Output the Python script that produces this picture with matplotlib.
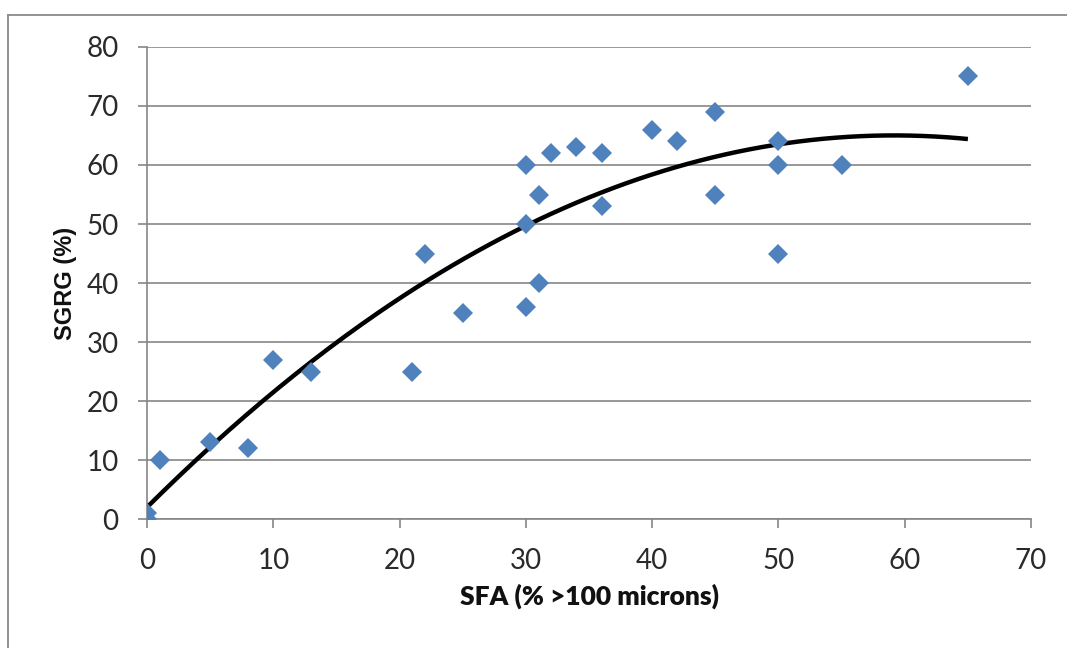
import numpy as np
import matplotlib
matplotlib.use("Agg")
import matplotlib.pyplot as plt
from matplotlib.lines import Line2D

# SFA (% >100 microns) vs SGRG (%)
sfa = [0, 0, 1, 5, 8, 10, 13, 21, 22, 25, 30, 30, 30, 31, 31, 32, 34, 36, 36,
       40, 42, 45, 45, 50, 50, 50, 55, 65]
sgrg = [0, 1, 10, 13, 12, 27, 25, 25, 45, 35, 36, 50, 60, 40, 55, 62, 63, 62, 53,
        66, 64, 69, 55, 64, 60, 45, 60, 75]

# polynomial (order 2) trendline, coefficients: c2, c1, c0
trend_coef = [-0.018, 2.13, 2.0]

x_ticks = [0, 10, 20, 30, 40, 50, 60, 70]
y_ticks = [0, 10, 20, 30, 40, 50, 60, 70, 80]

BLUE = "#4F81BD"
GRID = "#868686"
TICK_FONT = ["Lato", "DejaVu Sans"]

fig = plt.figure(figsize=(10.67, 6.48), dpi=100)
ax = fig.add_axes([0.1378, 0.199, 0.8285, 0.7285])

xs = np.linspace(0, max(sfa), 200)
ax.plot(xs, np.polyval(trend_coef, xs), color="black", lw=3.2, zorder=3,
        solid_capstyle="butt")

ax.plot(sfa, sgrg, linestyle="none", marker="D", markersize=10.5,
        color=BLUE, markeredgewidth=0, zorder=4)

ax.set_xlim(0, 70)
ax.set_ylim(0, 80)
ax.set_xticks(x_ticks)
ax.set_yticks(y_ticks)
ax.yaxis.grid(True, color=GRID, lw=1.2)
ax.set_axisbelow(True)

for side in ["top", "right"]:
    ax.spines[side].set_visible(False)
for side in ["left", "bottom"]:
    ax.spines[side].set_color(GRID)
    ax.spines[side].set_linewidth(1.2)

ax.tick_params(axis="both", direction="out", length=6.5, width=1.2,
               color=GRID, pad=14, labelsize=20, labelcolor="#2a2a2a")
for lab in ax.get_xticklabels() + ax.get_yticklabels():
    lab.set_family(TICK_FONT)

ax.set_xlabel("SFA (% >100 microns)", fontsize=19, fontweight="heavy",
              family=TICK_FONT, labelpad=7, color="#111111")
ax.set_ylabel("SGRG (%)", fontsize=17, fontweight="bold",
              family=["Liberation Sans", "DejaVu Sans"], labelpad=7,
              color="#111111")

# chart area border (top and left edges visible)
W, H = 1067.0, 648.0
fig.add_artist(Line2D([8 / W, 1], [1 - 15 / H, 1 - 15 / H], color="#8a8a8a",
                      lw=1.3, transform=fig.transFigure))
fig.add_artist(Line2D([8 / W, 8 / W], [0, 1 - 15 / H], color="#8a8a8a",
                      lw=1.3, transform=fig.transFigure))

fig.savefig("out.png", dpi=100, facecolor="white")
